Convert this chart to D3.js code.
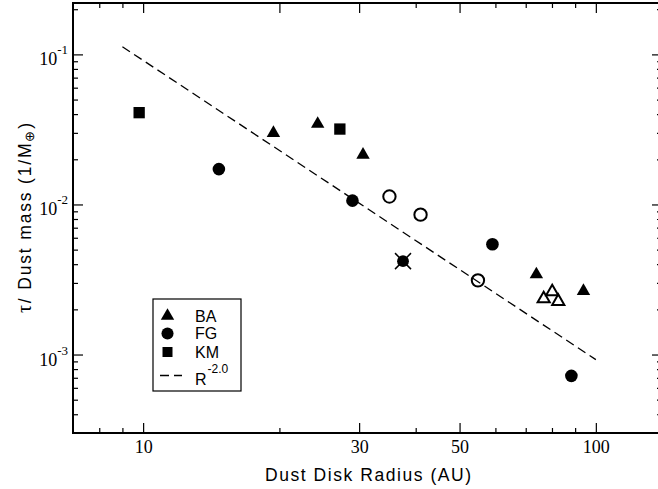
<!DOCTYPE html>
<html>
<head>
<meta charset="utf-8">
<script src="https://cdn.jsdelivr.net/npm/d3@7"></script>
<style>
  body { margin: 0; background: #fff; }
  svg { display: block; }
</style>
</head>
<body>
<svg id="chart"></svg>
<script>
const width = 658
const height = 489

// BA stars (filled / open triangles)
const baX = [19.4, 24.3, 30.6, 73.9, 93.9]
const baY = [0.0299, 0.0344, 0.0214, 0.00342, 0.00265]
const baOpenX = [80.1, 76.7, 82.6]
const baOpenY = [0.00262, 0.00235, 0.00226]
// FG stars (filled / open circles)
const fgX = [14.7, 29.0, 59.1, 88.3]
const fgY = [0.0172, 0.0106, 0.00543, 0.000721]
const fgOpenX = [35.0, 41.0, 54.9]
const fgOpenY = [0.0113, 0.00855, 0.00312]
const fgCrossX = [37.5]
const fgCrossY = [0.00419]
// KM stars (squares)
const kmX = [9.8, 27.2]
const kmY = [0.0409, 0.0318]
// R^-2.0 line, end points
const fitX = [9, 100]
const fitY = [0.1125, 0.000925]

const xMajorBottom = [10, 30, 50, 100]
const xMajorTop = [10, 20, 30, 50, 100]
const xMinorBottom = [8, 9, 20, 40, 60, 70, 80, 90]
const xMinorTop = [8, 9, 40, 60, 70, 80, 90]
const yMajor = [1e-1, 1e-2, 1e-3]
const yMajorExp = ['-1', '-2', '-3']
const yMinor = [0.2, 0.09, 0.08, 0.07, 0.06, 0.05, 0.04, 0.03, 0.02,
  0.009, 0.008, 0.007, 0.006, 0.005, 0.004, 0.003, 0.002,
  0.0009, 0.0008, 0.0007, 0.0006, 0.0005, 0.0004]

const legendNames = ['BA', 'FG', 'KM']

const margin = { left: 73, top: 3, right: 662, bottom: 433 }
const sans = '"Liberation Sans", Arial, sans-serif'
const serif = '"Liberation Serif", "Times New Roman", serif'

const svg = d3.select('#chart').attr('width', width).attr('height', height)

const x = d3.scaleLog().domain([7, 140]).range([margin.left, margin.right])
const y = d3.scaleLog().domain([3e-4, 0.22]).range([margin.bottom, margin.top])

function styleAxis(g) {
  g.select('.domain').remove()
  g.selectAll('.tick line').attr('stroke', '#000').attr('stroke-width', 1.2)
}

// bottom
svg.append('g')
  .attr('transform', `translate(0,${margin.bottom})`)
  .call(d3.axisBottom(x).tickValues(xMajorBottom).tickSizeInner(-10).tickSizeOuter(0)
    .tickPadding(7).tickFormat(d3.format('d')))
  .call(styleAxis)
  .call(g => g.selectAll('.tick text')
    .attr('font-family', serif).attr('font-size', 18).attr('fill', '#000'))
svg.append('g')
  .attr('transform', `translate(0,${margin.bottom})`)
  .call(d3.axisBottom(x).tickValues(xMinorBottom).tickSizeInner(-5).tickSizeOuter(0).tickFormat(''))
  .call(styleAxis)

// top
svg.append('g')
  .attr('transform', `translate(0,${margin.top})`)
  .call(d3.axisTop(x).tickValues(xMajorTop).tickSizeInner(-10).tickSizeOuter(0).tickFormat(''))
  .call(styleAxis)
svg.append('g')
  .attr('transform', `translate(0,${margin.top})`)
  .call(d3.axisTop(x).tickValues(xMinorTop).tickSizeInner(-5).tickSizeOuter(0).tickFormat(''))
  .call(styleAxis)

// left
svg.append('g')
  .attr('transform', `translate(${margin.left},0)`)
  .call(d3.axisLeft(y).tickValues(yMajor).tickSizeInner(-10).tickSizeOuter(0).tickPadding(5))
  .call(styleAxis)
  .call(g => g.selectAll('.tick text')
    .attr('font-family', serif).attr('font-size', 18).attr('fill', '#000').attr('dy', 10.5)
    .text(null)
    .each(function (d, i) {
      const t = d3.select(this)
      t.append('tspan').text('10')
      t.append('tspan').attr('font-size', 13).attr('dy', -11).text(yMajorExp[i])
    }))
svg.append('g')
  .attr('transform', `translate(${margin.left},0)`)
  .call(d3.axisLeft(y).tickValues(yMinor).tickSizeInner(-5).tickSizeOuter(0).tickFormat(''))
  .call(styleAxis)

// right
svg.append('g')
  .attr('transform', `translate(${margin.right},0)`)
  .call(d3.axisRight(y).tickValues(yMajor).tickSizeInner(-10).tickSizeOuter(0).tickFormat(''))
  .call(styleAxis)
svg.append('g')
  .attr('transform', `translate(${margin.right},0)`)
  .call(d3.axisRight(y).tickValues(yMinor).tickSizeInner(-5).tickSizeOuter(0).tickFormat(''))
  .call(styleAxis)

// frame
svg.append('rect')
  .attr('x', margin.left).attr('y', margin.top)
  .attr('width', margin.right - margin.left).attr('height', margin.bottom - margin.top)
  .attr('fill', 'none').attr('stroke', '#000').attr('stroke-width', 2)

// axis titles
svg.append('text')
  .attr('x', 265).attr('y', 481)
  .attr('font-family', sans).attr('font-size', 17.5)
  .attr('textLength', 206).attr('lengthAdjust', 'spacing')
  .text('Dust Disk Radius (AU)')

const yTitle = svg.append('text')
  .attr('transform', 'translate(31,313) rotate(-90)')
  .attr('font-family', sans).attr('font-size', 17.5)
  .attr('textLength', 190).attr('lengthAdjust', 'spacing')
yTitle.append('tspan').attr('font-family', serif).attr('font-size', 20).text('τ')
yTitle.append('tspan').text('/ Dust mass (1/M')
yTitle.append('tspan').attr('font-size', 13).attr('dy', 3).text('⊕')
yTitle.append('tspan').attr('dy', -3).text(')')

// fit line
const line = d3.line().x(d => x(d[0])).y(d => y(d[1]))
svg.append('path')
  .datum(d3.zip(fitX, fitY))
  .attr('d', line)
  .attr('fill', 'none').attr('stroke', '#000').attr('stroke-width', 1.3)
  .attr('stroke-dasharray', '9,5')

const tri = d3.symbol().type(d3.symbolTriangle)
const circ = d3.symbol().type(d3.symbolCircle)
const sq = d3.symbol().type(d3.symbolSquare)

function plot(xs, ys, sym, size, filled) {
  svg.append('g').selectAll('path')
    .data(d3.zip(xs, ys))
    .join('path')
    .attr('transform', d => `translate(${x(d[0])},${y(d[1])})`)
    .attr('d', sym.size(size)())
    .attr('fill', filled ? '#000' : 'none')
    .attr('stroke', '#000')
    .attr('stroke-width', filled ? 0 : 2)
}

plot(kmX, kmY, sq, 128, true)
plot(baX, baY, tri, 78, true)
plot(baOpenX, baOpenY, tri, 64, false)
plot(fgOpenX, fgOpenY, circ, 120, false)

// crossed circle
svg.append('g').selectAll('line')
  .data(d3.zip(fgCrossX, fgCrossY).flatMap(d => [[d, 1], [d, -1]]))
  .join('line')
  .attr('x1', d => x(d[0][0]) - 8).attr('x2', d => x(d[0][0]) + 8)
  .attr('y1', d => y(d[0][1]) - 8 * d[1]).attr('y2', d => y(d[0][1]) + 8 * d[1])
  .attr('stroke', '#000').attr('stroke-width', 1.5)
plot(fgCrossX, fgCrossY, circ, 110, true)
plot(fgX, fgY, circ, 125, true)

// legend
const lg = svg.append('g')
lg.append('rect')
  .attr('x', 153).attr('y', 299).attr('width', 88).attr('height', 92)
  .attr('fill', '#fff').attr('stroke', '#000').attr('stroke-width', 1.2)
const legSyms = [tri.size(78)(), circ.size(115)(), sq.size(100)()]
const legY = [316, 333.5, 352]
legendNames.forEach((name, i) => {
  lg.append('path').attr('d', legSyms[i])
    .attr('transform', `translate(167.5,${legY[i]})`).attr('fill', '#000')
  lg.append('text').attr('x', 195).attr('y', legY[i] + 5.5)
    .attr('font-family', sans).attr('font-size', 16)
    .text(name)
})
lg.append('line').attr('x1', 160).attr('x2', 182).attr('y1', 375.5).attr('y2', 375.5)
  .attr('stroke', '#000').attr('stroke-width', 1.3).attr('stroke-dasharray', '9,5')
const rt = lg.append('text').attr('x', 195).attr('y', 385)
  .attr('font-family', sans).attr('font-size', 16)
rt.append('tspan').text('R')
rt.append('tspan').attr('font-size', 12).attr('dy', -12).attr('dx', 1).text('-2.0')
</script>
</body>
</html>
